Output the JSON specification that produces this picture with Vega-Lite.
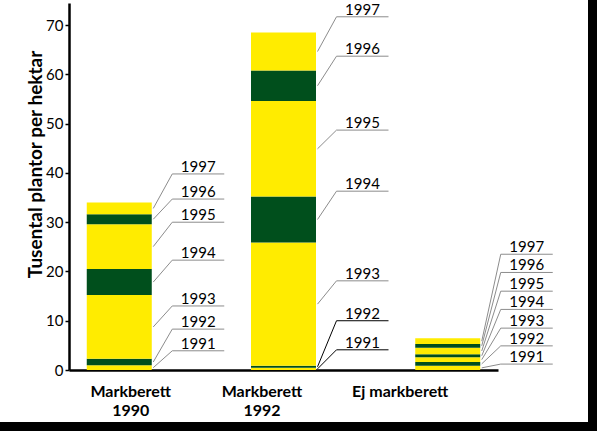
{
  "$schema": "https://vega.github.io/schema/vega-lite/v6.json",
  "width": 588,
  "height": 422,
  "autosize": "none",
  "padding": {"left": 0, "top": 0, "right": 9, "bottom": 9},
  "background": "#000000",
  "view": {"fill": "#ffffff", "stroke": null},
  "data": {
    "values": [
      {"group": "Markberett 1990", "year": 1991, "low": 0, "high": 0.95, "label": 3.9},
      {"group": "Markberett 1990", "year": 1992, "low": 0.95, "high": 2.29, "label": 8.3},
      {"group": "Markberett 1990", "year": 1993, "low": 2.29, "high": 15.2, "label": 13.0},
      {"group": "Markberett 1990", "year": 1994, "low": 15.2, "high": 20.5, "label": 22.3},
      {"group": "Markberett 1990", "year": 1995, "low": 20.5, "high": 29.6, "label": 30.0},
      {"group": "Markberett 1990", "year": 1996, "low": 29.6, "high": 31.6, "label": 34.7},
      {"group": "Markberett 1990", "year": 1997, "low": 31.6, "high": 34.0, "label": 39.8},
      {"group": "Markberett 1992", "year": 1991, "low": 0, "high": 0.45, "label": 4.1},
      {"group": "Markberett 1992", "year": 1992, "low": 0.45, "high": 0.85, "label": 10.0},
      {"group": "Markberett 1992", "year": 1993, "low": 0.85, "high": 25.9, "label": 18.1},
      {"group": "Markberett 1992", "year": 1994, "low": 25.9, "high": 35.2, "label": 36.3},
      {"group": "Markberett 1992", "year": 1995, "low": 35.2, "high": 54.6, "label": 48.7},
      {"group": "Markberett 1992", "year": 1996, "low": 54.6, "high": 60.8, "label": 63.7},
      {"group": "Markberett 1992", "year": 1997, "low": 60.8, "high": 68.5, "label": 71.7},
      {"group": "Ej markberett", "year": 1991, "low": 0, "high": 0.87, "label": 1.2},
      {"group": "Ej markberett", "year": 1992, "low": 0.87, "high": 1.63, "label": 4.9},
      {"group": "Ej markberett", "year": 1993, "low": 1.63, "high": 2.58, "label": 8.5},
      {"group": "Ej markberett", "year": 1994, "low": 2.58, "high": 3.19, "label": 12.3},
      {"group": "Ej markberett", "year": 1995, "low": 3.19, "high": 4.53, "label": 16.0},
      {"group": "Ej markberett", "year": 1996, "low": 4.53, "high": 5.28, "label": 19.8},
      {"group": "Ej markberett", "year": 1997, "low": 5.28, "high": 6.44, "label": 23.5}
    ]
  },
  "transform": [{"calculate": "(datum.low + datum.high) / 2", "as": "mid"}],
  "encoding": {
    "x": {
      "field": "group",
      "type": "nominal",
      "sort": ["Markberett 1990", "Markberett 1992", "Ej markberett"],
      "scale": {"type": "point", "range": [69, 498], "padding": 0.306},
      "axis": {
        "title": null,
        "offset": -52,
        "domainColor": "#000000",
        "domainWidth": 2.5,
        "ticks": false,
        "labelAngle": 0,
        "labelFont": "Lato",
        "labelFontSize": 16,
        "labelFontWeight": "bold",
        "labelColor": "#000000",
        "labelPadding": 13,
        "labelLineHeight": 19.5,
        "labelOverlap": false,
        "labelExpr": "datum.label == 'Ej markberett' ? datum.label : split(datum.label, ' ')",
        "labelOffset": {
          "condition": [
            {"test": "datum.value == 'Markberett 1990'", "value": 11},
            {"test": "datum.value == 'Markberett 1992'", "value": -22}
          ],
          "value": -48
        }
      }
    }
  },
  "layer": [
    {
      "mark": {"type": "bar", "width": 65},
      "encoding": {
        "y": {
          "field": "low",
          "type": "quantitative",
          "scale": {"domain": [0, 74.5], "range": [370, 3], "nice": false, "zero": false},
          "axis": {
            "title": "Tusental plantor per hektar",
            "values": [0, 10, 20, 30, 40, 50, 60, 70],
            "offset": -69,
            "grid": false,
            "domainColor": "#000000",
            "domainWidth": 2.5,
            "tickColor": "#000000",
            "tickSize": 4,
            "tickWidth": 1.5,
            "labelFont": "Lato",
            "labelFontSize": 15,
            "labelColor": "#000000",
            "labelPadding": 2,
            "titleFont": "Lato",
            "titleFontSize": 19,
            "titleFontWeight": "bold",
            "titleColor": "#000000",
            "titleAngle": 270,
            "titleAlign": "center",
            "titleBaseline": "middle",
            "titleX": -34,
            "titleY": 164
          }
        },
        "y2": {"field": "high"},
        "color": {
          "field": "year",
          "type": "nominal",
          "scale": {
            "domain": [1991, 1992, 1993, 1994, 1995, 1996, 1997],
            "range": ["#ffec00", "#004f1c", "#ffec00", "#004f1c", "#ffec00", "#004f1c", "#ffec00"]
          },
          "legend": null
        }
      }
    },
    {
      "mark": {"type": "rule", "xOffset": 34, "x2Offset": 53, "strokeWidth": 1},
      "encoding": {
        "x2": {"field": "group"},
        "y": {"field": "mid", "type": "quantitative", "axis": null},
        "y2": {"field": "label"},
        "color": {
          "condition": {"test": "datum.group == 'Markberett 1992' && datum.year <= 1992", "value": "#000000"},
          "value": "#8c8c8c"
        }
      }
    },
    {
      "mark": {"type": "rule", "xOffset": 53, "x2Offset": 105, "strokeWidth": 1},
      "encoding": {
        "x2": {"field": "group"},
        "y": {"field": "label", "type": "quantitative", "axis": null},
        "color": {
          "condition": {"test": "datum.group == 'Markberett 1992' && datum.year <= 1992", "value": "#000000"},
          "value": "#8c8c8c"
        }
      }
    },
    {
      "mark": {"type": "text", "dx": 79, "dy": -2, "align": "center", "baseline": "alphabetic", "font": "Lato", "fontSize": 15, "color": "#000000"},
      "encoding": {
        "y": {"field": "label", "type": "quantitative", "axis": null},
        "text": {"field": "year", "type": "nominal"}
      }
    }
  ],
  "resolve": {"axis": {"y": "independent"}}
}
